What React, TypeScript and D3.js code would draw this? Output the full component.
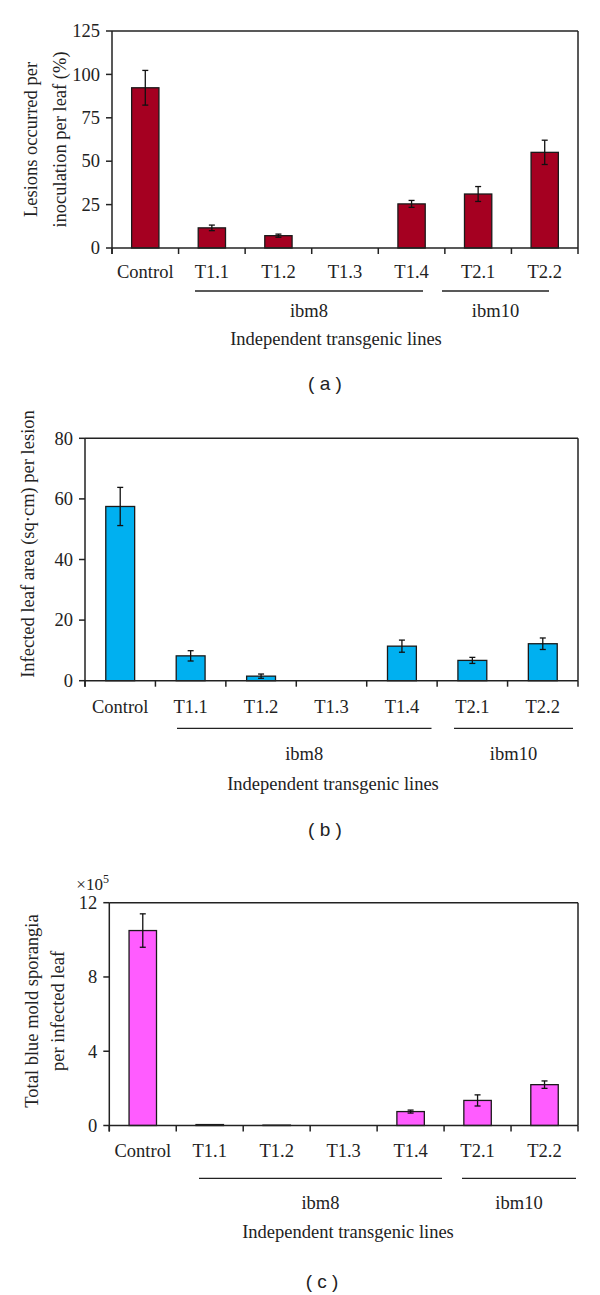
import React from "react";
import * as d3 from "d3";

const categories = ["Control", "T1.1", "T1.2", "T1.3", "T1.4", "T2.1", "T2.2"];

// (a) lesions per inoculation per leaf, %
const lesionMeans = [92.3, 11.6, 7.1, 0, 25.4, 31.1, 55.1];
const lesionErrors = [10, 1.6, 0.9, 0, 2.0, 4.3, 7.0];
const lesionTicks = [0, 25, 50, 75, 100, 125];

// (b) infected leaf area per lesion, sq cm
const areaMeans = [57.5, 8.2, 1.5, 0, 11.4, 6.7, 12.2];
const areaErrors = [6.3, 1.7, 0.7, 0, 2.0, 1.0, 1.9];
const areaTicks = [0, 20, 40, 60, 80];

// (c) sporangia per infected leaf, x10^5
const sporangiaMeans = [10.5, 0.05, 0.02, 0, 0.75, 1.35, 2.2];
const sporangiaErrors = [0.9, 0, 0, 0, 0.08, 0.3, 0.2];
const sporangiaTicks = [0, 4, 8, 12];

const groupLabels = ["ibm8", "ibm10"];
const xTitle = "Independent transgenic lines";

const SERIF = "'Liberation Serif', 'Times New Roman', serif";
const SANS = "'Liberation Sans', Arial, sans-serif";
const FS = 18.5;

type PanelProps = {
  means: number[];
  errors: number[];
  ticks: number[];
  color: string;
  left: number;
  right: number;
  top: number;
  bottom: number;
  labelY: number;
  groupLineY: number;
  groupLines: [number, number][];
  groupTextY: number;
  titleX: number;
  titleY: number;
  tag: string;
  tagX: number;
  tagY: number;
  yLabel: string[];
  yLabelX: number[];
  yLabelY: number;
  exponent?: boolean;
};

const Panel = (p: PanelProps) => {
  const x = d3.scaleBand().domain(categories).range([p.left, p.right]);
  const y = d3
    .scaleLinear()
    .domain([0, p.ticks[p.ticks.length - 1]])
    .range([p.bottom, p.top]);
  const bw = x.bandwidth() * 0.41;
  const edges = categories.map((c) => x(c) as number).concat([p.right]);

  return (
    <g>
      {/* bars */}
      {categories.map((c, i) => (
        <rect
          key={c}
          x={(x(c) as number) + x.bandwidth() / 2 - bw / 2}
          y={y(p.means[i])}
          width={bw}
          height={p.bottom - y(p.means[i])}
          fill={p.color}
          stroke="#1a1a1a"
          strokeWidth={1.3}
        />
      ))}
      {/* error bars */}
      {categories.map((c, i) => {
        if (p.errors[i] <= 0) return null;
        const cx = (x(c) as number) + x.bandwidth() / 2;
        const y1 = y(p.means[i] + p.errors[i]);
        const y2 = y(p.means[i] - p.errors[i]);
        return (
          <g key={"e" + c} stroke="#111" strokeWidth={1.3}>
            <line x1={cx} x2={cx} y1={y1} y2={y2} />
            <line x1={cx - 3} x2={cx + 3} y1={y1} y2={y1} />
            <line x1={cx - 3} x2={cx + 3} y1={y2} y2={y2} />
          </g>
        );
      })}
      {/* frame */}
      <g stroke="#222" strokeWidth={1.5} fill="none">
        <line x1={p.left} x2={p.right} y1={p.top} y2={p.top} />
        <line x1={p.right} x2={p.right} y1={p.top} y2={p.bottom} />
        <line x1={p.left} x2={p.left} y1={p.top} y2={p.bottom + 6} />
        <line x1={p.left} x2={p.right} y1={p.bottom} y2={p.bottom} />
        {edges.map((e, i) => (
          <line key={"xt" + i} x1={e} x2={e} y1={p.bottom} y2={p.bottom + 6} />
        ))}
        {p.ticks.map((t) => (
          <line key={"yt" + t} x1={p.left - 6} x2={p.left} y1={y(t)} y2={y(t)} />
        ))}
      </g>
      {/* y tick labels */}
      {p.ticks.map((t) => (
        <text
          key={"yl" + t}
          x={p.left - 12}
          y={y(t)}
          dy="0.34em"
          textAnchor="end"
          fontFamily={SERIF}
          fontSize={FS}
          fill="#222"
        >
          {t}
        </text>
      ))}
      {p.exponent && (
        <text x={p.left - 33} y={p.top - 13} fontFamily={SERIF} fontSize={17} fill="#222">
          ×10
          <tspan fontSize={12} dy={-7}>
            5
          </tspan>
        </text>
      )}
      {/* category labels */}
      {categories.map((c) => (
        <text
          key={"cl" + c}
          x={(x(c) as number) + x.bandwidth() / 2}
          y={p.labelY}
          textAnchor="middle"
          fontFamily={SERIF}
          fontSize={FS}
          fill="#222"
        >
          {c}
        </text>
      ))}
      {/* group lines */}
      {p.groupLines.map((g, i) => (
        <g key={"g" + i}>
          <line x1={g[0]} x2={g[1]} y1={p.groupLineY} y2={p.groupLineY} stroke="#222" strokeWidth={1.3} />
          <text
            x={(g[0] + g[1]) / 2}
            y={p.groupTextY}
            textAnchor="middle"
            fontFamily={SERIF}
            fontSize={FS}
            fill="#222"
          >
            {groupLabels[i]}
          </text>
        </g>
      ))}
      <text x={p.titleX} y={p.titleY} textAnchor="middle" fontFamily={SERIF} fontSize={FS} fill="#222">
        {xTitle}
      </text>
      {/* y axis title */}
      {p.yLabel.map((l, i) => (
        <text
          key={"ylab" + i}
          transform={`translate(${p.yLabelX[i]},${p.yLabelY}) rotate(-90)`}
          textAnchor="middle"
          fontFamily={SERIF}
          fontSize={FS}
          fill="#222"
        >
          {l}
        </text>
      ))}
      <text x={p.tagX} y={p.tagY} textAnchor="middle" fontFamily={SANS} fontSize={19} fill="#222" xmlSpace="preserve">
        ( {p.tag} )
      </text>
    </g>
  );
};

export default function App() {
  return (
    <svg
      width={600}
      height={1295}
      style={{ position: "absolute", left: 0, top: 0, background: "#fff" }}
    >
      <rect width={600} height={1295} fill="#fff" />
      <Panel
        means={lesionMeans}
        errors={lesionErrors}
        ticks={lesionTicks}
        color="#a50021"
        left={112}
        right={578}
        top={31}
        bottom={248}
        labelY={278}
        groupLineY={291}
        groupLines={[
          [195, 423],
          [442, 549],
        ]}
        groupTextY={317}
        titleX={336}
        titleY={345}
        tag="a"
        tagX={325}
        tagY={390}
        yLabel={["Lesions occurred per", "inoculation per leaf (%)"]}
        yLabelX={[37, 65.5]}
        yLabelY={139.5}
      />
      <Panel
        means={areaMeans}
        errors={areaErrors}
        ticks={areaTicks}
        color="#00b0f0"
        left={85}
        right={578}
        top={438.3}
        bottom={680.7}
        labelY={713}
        groupLineY={728.3}
        groupLines={[
          [177, 431.5],
          [454, 573],
        ]}
        groupTextY={760}
        titleX={333}
        titleY={790}
        tag="b"
        tagX={325}
        tagY={836}
        yLabel={["Infected leaf area (sq·cm) per lesion"]}
        yLabelX={[34]}
        yLabelY={544}
      />
      <Panel
        means={sporangiaMeans}
        errors={sporangiaErrors}
        ticks={sporangiaTicks}
        color="#ff5cff"
        left={109.3}
        right={578}
        top={902.7}
        bottom={1125.5}
        labelY={1157}
        groupLineY={1178.3}
        groupLines={[
          [199, 442],
          [462, 576],
        ]}
        groupTextY={1209}
        titleX={348}
        titleY={1238}
        tag="c"
        tagX={322}
        tagY={1288}
        yLabel={["Total blue mold sporangia", "per infected leaf"]}
        yLabelX={[37.5, 64]}
        yLabelY={1011}
        exponent
      />
    </svg>
  );
}
